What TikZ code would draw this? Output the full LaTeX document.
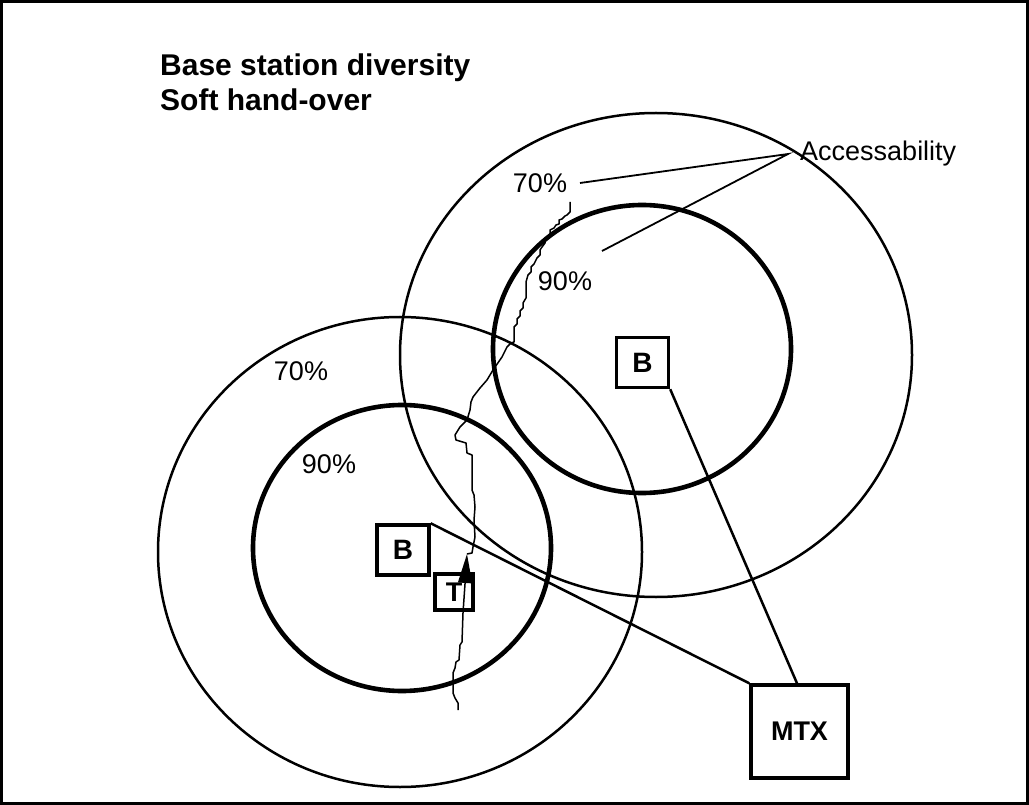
\documentclass[tikz,border=0pt]{standalone}
\usepackage{fontspec}
\setmainfont{Liberation Sans}
\usetikzlibrary{arrows.meta}
\begin{document}
\begin{tikzpicture}[x=1pt,y=-1pt,
  thincirc/.style={line width=2.5pt},
  thickcirc/.style={line width=4.6pt},
  station/.style={draw,fill=white,line width=3.4pt,font=\fontsize{28}{28}\selectfont\bfseries,inner sep=0pt,minimum width=52pt,minimum height=50pt},
  lbl/.style={font=\fontsize{27}{27}\selectfont,anchor=base,inner sep=0pt},
  titletext/.style={font=\fontsize{30}{30}\selectfont\bfseries,anchor=base west,inner sep=0pt},
  link/.style={line width=2.5pt},
  leader/.style={line width=1.8pt},
  track/.style={line width=1.5pt,line join=round}
]
\useasboundingbox (0,0) rectangle (1029,805);
\draw[line width=2.5pt] (1.5,1.5) rectangle (1027.5,803.5);

% title
\node[titletext] (t1) at (160,76) {Base station diversity};
\node[titletext] (t2) at (160,111) {Soft hand-over};

% coverage circles
\draw[thincirc] (400,552) ellipse [x radius=242, y radius=235];
\draw[thickcirc] (402,548) ellipse [x radius=149, y radius=143];
\draw[thincirc] (656,355) ellipse [x radius=256, y radius=242];
\draw[thickcirc] (642,349) ellipse [x radius=149, y radius=144];

% labels
\node[lbl] (l70a) at (301,380) {70\%};
\node[lbl] (l90a) at (329,473) {90\%};
\node[lbl] (l70b) at (540,193) {70\%};
\node[lbl] (l90b) at (565,291) {90\%};
\node[font=\fontsize{27}{27}\selectfont,anchor=base west,inner sep=0pt] (acc) at (800,161) {Accessability};
\coordinate (apex) at (788,154);
\coordinate (a1) at (580,183);
\coordinate (a2) at (602,251);
\draw[leader] (a1) -- (apex) -- (a2);

% stations
\node[station] (B1) at (403,550) {B};
\node[station] (B2) at (642.5,362.5) {B};
\node[station,minimum width=38pt,minimum height=36pt,font=\fontsize{27}{27}\selectfont\bfseries] (T) at (454,592) {T};
\node[station,minimum width=97pt,minimum height=93pt,font=\fontsize{27}{27}\selectfont\bfseries] (MTX) at (799.5,731.5) {MTX};
\draw[link] (B1.north east) -- (MTX.north west);
\draw[link] (B2.south east) -- ([xshift=-2.5pt]MTX.north);

% terminal track
\coordinate (tip) at (467,554);
\draw[track,-{Triangle[length=29pt,width=14pt]}] (458,710) -- (458,703) -- (455,698) -- (453,693) -- (453,673) -- (455,668) -- (456,662) -- (459,660) -- (460,645) -- (462,642) -- (463,613) -- (465,584) -- (tip);
\draw[track] (tip) -- (472,553) -- (473,547) -- (475,537) -- (474,520) -- (475,507) -- (474,495) -- (472,490) -- (472,455) -- (467,453) -- (466,443) -- (456,440) -- (455,435) -- (460,427) -- (467,420) -- (470,410) -- (471,402) -- (473,397) -- (480,388) -- (487,380) -- (493,370) -- (502,357) -- (507,347) -- (511,343) -- (514,342)
 -- (514,327) -- (517,324) -- (517,319) -- (520,316) -- (520,311) -- (523,308) -- (523,303) -- (526,298) -- (526,282) -- (528,275) -- (531,272) -- (531,267) -- (534,264) -- (537,258) -- (540,255) -- (540,250) -- (542,247) -- (545,243) -- (545,238) -- (547,237) -- (550,235) -- (550,230) -- (554,228) -- (556,225) -- (559,224) -- (559,220) -- (562,219) -- (565,216) -- (567,215) -- (570,212) -- (570,202);
\end{tikzpicture}
\end{document}
